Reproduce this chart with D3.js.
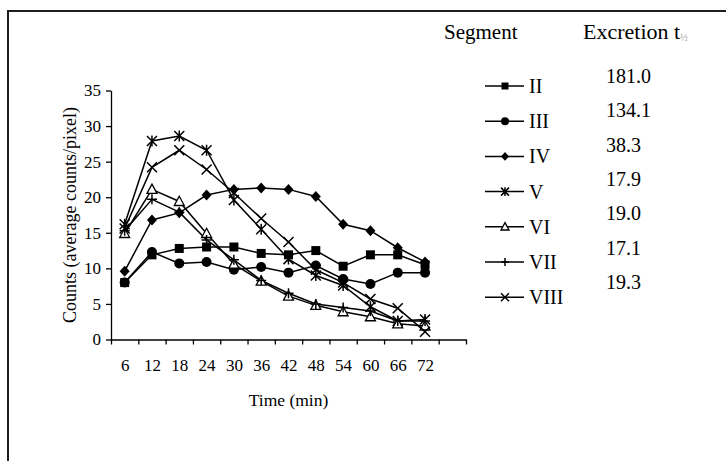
<!DOCTYPE html>
<html>
<head>
<meta charset="utf-8">
<script src="https://cdn.jsdelivr.net/npm/d3@7"></script>
<style>
  body { margin: 0; background: #fff; }
  svg text { font-family: "Liberation Serif", "Times New Roman", serif; fill: #000; }
</style>
</head>
<body>
<div id="chart"></div>
<script>
// data
var times = [6, 12, 18, 24, 30, 36, 42, 48, 54, 60, 66, 72];
var segII   = [8.0, 11.9, 12.8, 13.0, 13.0, 12.1, 11.9, 12.5, 10.3, 11.9, 11.9, 10.5];
var segIII  = [8.0, 12.3, 10.7, 10.9, 9.8, 10.2, 9.4, 10.4, 8.5, 7.8, 9.4, 9.4];
var segIV   = [9.6, 16.8, 17.8, 20.3, 21.1, 21.3, 21.1, 20.1, 16.2, 15.3, 12.9, 10.9];
var segV    = [16.2, 27.9, 28.6, 26.6, 19.6, 15.5, 11.3, 9.0, 7.6, 4.6, 2.6, 2.8];
var segVI   = [14.9, 21.1, 19.4, 14.9, 10.6, 8.2, 6.1, 4.8, 3.9, 3.2, 2.2, 1.9];
var segVII  = [15.3, 19.7, 17.9, 14.0, 11.2, 8.3, 6.5, 5.0, 4.5, 4.0, 2.6, 2.6];
var segVIII = [15.6, 24.2, 26.6, 23.9, 20.6, 17.0, 13.7, 9.8, 8.0, 5.7, 4.4, 1.1];

var segNames = ["II", "III", "IV", "V", "VI", "VII", "VIII"];
var halfLives = ["181.0", "134.1", "38.3", "17.9", "19.0", "17.1", "19.3"];
var markers = ["square", "circle", "diamond", "asterisk", "triangle", "plus", "cross"];
var seriesValues = [segII, segIII, segIV, segV, segVI, segVII, segVIII];

var yTicks = [0, 5, 10, 15, 20, 25, 30, 35];

var svgWidth = 726;
var svgHeight = 461;

var margin = { top: 90.5, left: 111 };
var width = 355;
var height = 249;

var svg = d3.select("#chart")
    .append("svg")
    .attr("width", svgWidth)
    .attr("height", svgHeight);

// frame (cropped at right and bottom in the original)
svg.append("path")
    .attr("d", "M8,470 L8,11 L740,11")
    .attr("fill", "none")
    .attr("stroke", "#1e1e1e")
    .attr("stroke-width", 2);

var chartGroup = svg.append("g")
    .attr("transform", `translate(${margin.left}, ${margin.top})`);

// scales: 13 slots of 6 min, last slot left empty
var xScale = d3.scaleLinear().domain([3, 81]).range([0, width]);
var yScale = d3.scaleLinear().domain([0, 35]).range([height, 0]);

// axes
var yAxis = d3.axisLeft(yScale)
    .tickValues(yTicks)
    .tickSize(5)
    .tickSizeOuter(0)
    .tickPadding(5);

chartGroup.append("g")
    .attr("class", "y-axis")
    .call(yAxis);

var xTickAxis = d3.axisBottom(xScale)
    .tickValues(d3.range(3, 82, 6))
    .tickSize(5)
    .tickSizeOuter(0)
    .tickFormat("");

chartGroup.append("g")
    .attr("transform", `translate(0, ${height})`)
    .call(xTickAxis);

var xLabelAxis = d3.axisBottom(xScale)
    .tickValues(times)
    .tickSize(0)
    .tickPadding(19);

var xLabels = chartGroup.append("g")
    .attr("transform", `translate(0, ${height})`)
    .call(xLabelAxis);
xLabels.select(".domain").remove();

chartGroup.selectAll(".domain, .tick line")
    .attr("stroke", "#000")
    .attr("stroke-width", 1.3);

chartGroup.selectAll(".tick text")
    .attr("font-size", 17)
    .attr("font-family", "Liberation Serif, Times New Roman, serif");

// axis titles
chartGroup.append("text")
    .attr("transform", "rotate(-90)")
    .attr("x", -height / 2)
    .attr("y", -35)
    .attr("text-anchor", "middle")
    .attr("font-size", 18)
    .text("Counts (average counts/pixel)");

chartGroup.append("text")
    .attr("x", width / 2)
    .attr("y", height + 66)
    .attr("text-anchor", "middle")
    .attr("font-size", 17.5)
    .text("Time (min)");

// marker shapes
function markerPath(type, s) {
    var h = s / 2;
    if (type === "square") return `M${-h},${-h}H${h}V${h}H${-h}Z`;
    if (type === "diamond") return `M0,${-h * 1.1}L${h},0L0,${h * 1.1}L${-h},0Z`;
    if (type === "triangle") return `M0,${-h * 1.05}L${h},${h * 0.8}L${-h},${h * 0.8}Z`;
    if (type === "plus") return `M${-h},0H${h}M0,${-h}V${h}`;
    if (type === "cross") return `M${-h},${-h}L${h},${h}M${h},${-h}L${-h},${h}`;
    if (type === "asterisk") return `M${-h},${-h}L${h},${h}M${h},${-h}L${-h},${h}M0,${-h * 1.1}V${h * 1.1}`;
    return "";
}

function drawMarker(g, type, s) {
    if (type === "circle") {
        g.append("circle").attr("r", s / 2).attr("fill", "#000");
    } else if (type === "triangle") {
        g.append("path").attr("d", markerPath(type, s))
            .attr("fill", "#fff").attr("stroke", "#000").attr("stroke-width", 1.3);
    } else if (type === "plus" || type === "cross" || type === "asterisk") {
        g.append("path").attr("d", markerPath(type, s))
            .attr("fill", "none").attr("stroke", "#000").attr("stroke-width", 1.5);
    } else {
        g.append("path").attr("d", markerPath(type, s)).attr("fill", "#000");
    }
}

var line = d3.line()
    .x((d, i) => xScale(times[i]))
    .y(d => yScale(d));

// lines
seriesValues.forEach(function (vals) {
    chartGroup.append("path")
        .datum(vals)
        .attr("d", line)
        .attr("fill", "none")
        .attr("stroke", "#000")
        .attr("stroke-width", 1.5);
});

// points
seriesValues.forEach(function (vals, k) {
    vals.forEach(function (v, i) {
        var g = chartGroup.append("g")
            .attr("transform", `translate(${xScale(times[i])}, ${yScale(v)})`);
        drawMarker(g, markers[k], markers[k] === "square" ? 9 : 10);
    });
});

// legend
svg.append("text")
    .attr("x", 444)
    .attr("y", 39)
    .attr("font-size", 21)
    .text("Segment");

var head = svg.append("text")
    .attr("x", 583)
    .attr("y", 39)
    .attr("font-size", 22)
    .text("Excretion t");
head.append("tspan")
    .attr("font-size", 10)
    .attr("dy", 2)
    .attr("fill", "#a0a0a0")
    .text("½");

segNames.forEach(function (name, i) {
    var cy = 86 + i * 35.2;
    var row = svg.append("g");
    row.append("line")
        .attr("x1", 485).attr("x2", 524)
        .attr("y1", cy).attr("y2", cy)
        .attr("stroke", "#000")
        .attr("stroke-width", 1.5);
    var m = row.append("g").attr("transform", `translate(505, ${cy})`);
    drawMarker(m, markers[i], markers[i] === "square" ? 7 : 8);
    row.append("text")
        .attr("x", 529)
        .attr("y", cy + 7)
        .attr("font-size", 20)
        .text(name);
    svg.append("text")
        .attr("x", 606)
        .attr("y", 83 + i * 34.3)
        .attr("font-size", 20)
        .text(halfLives[i]);
});
</script>
</body>
</html>
